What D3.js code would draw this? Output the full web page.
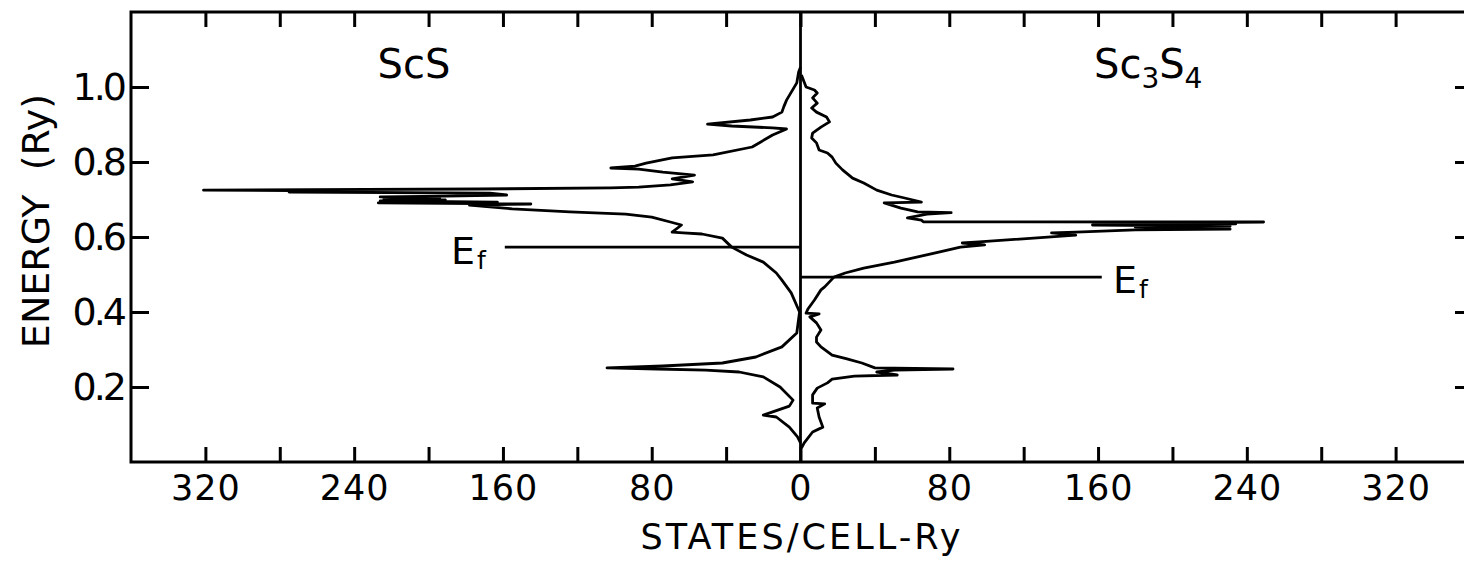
<!DOCTYPE html>
<html><head><meta charset="utf-8">
<script src="https://cdn.jsdelivr.net/npm/d3@7/dist/d3.min.js"></script>
<style>
body{margin:0;background:#fff;}
svg{display:block;}
text{font-family:"DejaVu Sans",sans-serif;fill:#000;}
</style>
</head><body>
<svg id="chart" width="1464" height="563"></svg>
<script>
// ScS (left panel) : energy (Ry) and density of states (states/cell-Ry)
const scsEnergy = [1.053,1.040,1.011,0.965,0.947,0.933,0.920,0.912,0.901,0.896,0.891,0.888,0.872,0.840,0.819,0.811,0.797,0.789,0.784,0.781,0.773,0.765,0.755,0.747,0.739,0.733,0.731,0.728,0.725,0.723,0.720,0.717,0.712,0.709,0.707,0.704,0.701,0.699,0.696,0.693,0.691,0.688,0.685,0.675,0.667,0.661,0.653,0.640,0.632,0.613,0.611,0.608,0.597,0.573,0.552,0.533,0.504,0.485,0.451,0.400,0.344,0.307,0.280,0.264,0.256,0.251,0.248,0.245,0.240,0.227,0.200,0.165,0.149,0.125,0.120,0.093,0.067,0.051];
const scsDos = [0,1,2,7.5,9,10,15,27,50,37,15,7.5,15,26,47,69,83,89,102,87,74,57,69,58,70,87,102,173,321,253,275,167,158,191,226,194,224,191,226,163,227,145,178,155,124,94,80,70,64,69,63,53,42,37,29,20,13,10,5,0.5,2,10,24,42,74,104,77,51,33,20,11,4,6,20,13,6,1.6,0];

// Sc3S4 (right panel)
const sc3s4Energy = [1.032,1.000,0.992,0.984,0.971,0.957,0.944,0.933,0.920,0.907,0.893,0.877,0.864,0.851,0.832,0.824,0.813,0.797,0.779,0.757,0.744,0.725,0.712,0.704,0.693,0.691,0.677,0.667,0.665,0.661,0.651,0.645,0.6405,0.640,0.637,0.635,0.632,0.629,0.627,0.621,0.619,0.613,0.611,0.605,0.587,0.584,0.579,0.573,0.557,0.533,0.517,0.504,0.493,0.467,0.459,0.432,0.408,0.397,0.395,0.387,0.371,0.352,0.333,0.320,0.307,0.285,0.275,0.264,0.251,0.248,0.245,0.240,0.232,0.229,0.221,0.211,0.197,0.179,0.157,0.155,0.144,0.120,0.093,0.080,0.051,0.037];
const sc3s4Dos = [0.5,3,7.5,9,6.5,9,6,8.6,14,15.6,11,6.5,6,8.6,10,14.5,17,19,22.6,28,34,41,49,56,65,45,54,63,81,68,57.5,65,66,249,188,234,157,231,180,231,180,148,135,148,96,87,99,86,72,50.5,34,24,18,13,11,7.5,4,3,10,5,8.6,11,8.6,8.6,11,17,25,33,40,82,50.5,41,52,29,17,14.5,9,6.5,6.5,13,9,10,12,6.5,2,0.5];

// Fermi levels and the extent of their marker lines (states/cell-Ry)
const fermiEnergy = [0.573, 0.493];
const fermiLineLength = [159, 162];

const xTicks = [-320,-280,-240,-200,-160,-120,-80,-40,0,40,80,120,160,200,240,280,320];
const xLabelStep = 80;
const yTicks = [0.2,0.4,0.6,0.8,1.0];

const svg = d3.select("#chart");
const x = d3.scaleLinear().domain([-360, 360]).range([131, 1470]);
const y = d3.scaleLinear().domain([0, 1.2]).range([462, 12]);

// frame
svg.append("rect").attr("x", x(-360)).attr("y", y(1.2))
  .attr("width", x(360) - x(-360)).attr("height", y(0) - y(1.2))
  .attr("fill", "none").attr("stroke", "#000").attr("stroke-width", 3);

function styleAxis(g){
  g.select(".domain").remove();
  g.selectAll(".tick line").attr("stroke", "#000").attr("stroke-width", 3);
  g.selectAll(".tick text").attr("font-family", "DejaVu Sans").attr("fill", "#000");
}

svg.append("g").attr("transform", `translate(0,${y(0)})`)
  .call(d3.axisBottom(x).tickValues(xTicks).tickSize(-15).tickPadding(13)
    .tickFormat(d => (d % xLabelStep === 0) ? Math.abs(d) : ""))
  .call(styleAxis)
  .selectAll(".tick text").attr("font-size", 35).attr("letter-spacing", 1);

svg.append("g").attr("transform", `translate(0,${y(1.2)})`)
  .call(d3.axisTop(x).tickValues(xTicks).tickSize(-15).tickFormat(""))
  .call(styleAxis);

svg.append("g").attr("transform", `translate(${x(-360)},0)`)
  .call(d3.axisLeft(y).tickValues(yTicks).tickSize(-18).tickPadding(7)
    .tickFormat(d3.format(".1f")))
  .call(styleAxis)
  .selectAll(".tick text").attr("font-size", 38).attr("letter-spacing", -3);

svg.append("g").attr("transform", `translate(${x(360)},0)`)
  .call(d3.axisRight(y).tickValues(yTicks).tickSize(-15).tickFormat(""))
  .call(styleAxis);

// centre line
svg.append("line").attr("x1", x(0)).attr("x2", x(0))
  .attr("y1", y(1.2)).attr("y2", y(0))
  .attr("stroke", "#000").attr("stroke-width", 2.8);

// DOS curves
const scsData = scsEnergy.map((e, i) => ({e, d: -scsDos[i]}));
const sc3s4Data = sc3s4Energy.map((e, i) => ({e, d: sc3s4Dos[i]}));
const line = d3.line().x(p => x(p.d)).y(p => y(p.e));
[scsData, sc3s4Data].forEach(data => {
  svg.append("path").datum(data).attr("d", line)
    .attr("fill", "none").attr("stroke", "#000")
    .attr("stroke-width", 2.8).attr("stroke-linejoin", "round");
});

// Fermi level lines
svg.append("line").attr("x1", x(-fermiLineLength[0])).attr("x2", x(0))
  .attr("y1", y(fermiEnergy[0])).attr("y2", y(fermiEnergy[0]))
  .attr("stroke", "#000").attr("stroke-width", 2.8);
svg.append("line").attr("x1", x(0)).attr("x2", x(fermiLineLength[1]))
  .attr("y1", y(fermiEnergy[1])).attr("y2", y(fermiEnergy[1]))
  .attr("stroke", "#000").attr("stroke-width", 2.8);

function ef(xPos, yBase){
  const t = svg.append("text").attr("x", xPos).attr("y", yBase).attr("font-size", 38);
  t.append("tspan").text("E");
  t.append("tspan").attr("font-size", 25).attr("dx", 2).attr("dy", 5).text("f");
}
ef(451, 264);
ef(1113, 293);

// panel titles
svg.append("text").attr("x", 414).attr("y", 78).attr("text-anchor", "middle")
  .attr("font-size", 40).text("ScS");
const t2 = svg.append("text").attr("x", 1094).attr("y", 78).attr("font-size", 40);
t2.append("tspan").text("Sc");
t2.append("tspan").attr("font-size", 28).attr("dy", 10).text("3");
t2.append("tspan").attr("dy", -10).text("S");
t2.append("tspan").attr("font-size", 28).attr("dy", 10).text("4");

// axis titles
svg.append("text").attr("x", x(0)).attr("y", 549).attr("text-anchor", "middle")
  .attr("font-size", 35).attr("textLength", 320).attr("lengthAdjust", "spacing")
  .text("STATES/CELL-Ry");
svg.append("text").attr("transform", "translate(49,221) rotate(-90)")
  .attr("text-anchor", "middle").attr("font-size", 38)
  .style("white-space", "pre").text("ENERGY  (Ry)");
</script>
</body></html>
